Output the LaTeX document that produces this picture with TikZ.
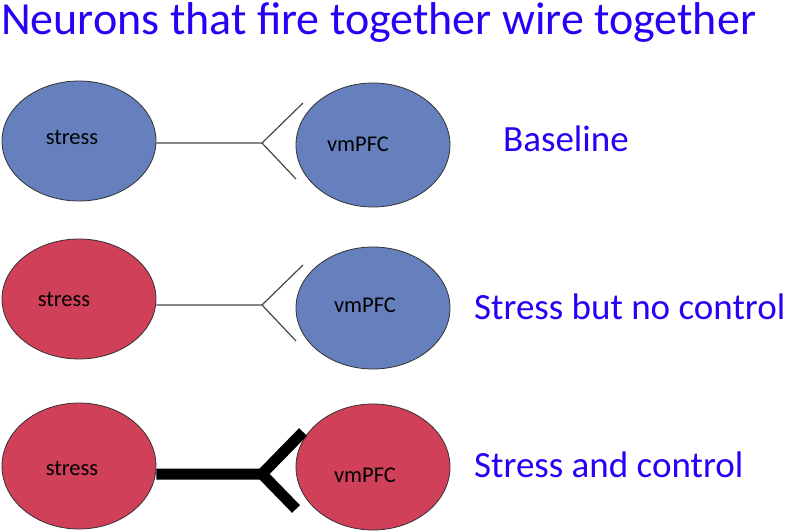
\documentclass[tikz,border=0pt]{standalone}
\usepackage{fontspec}
\setmainfont{Carlito}
\usetikzlibrary{shapes.geometric}
\definecolor{nblue}{RGB}{102,128,190}
\definecolor{nred}{RGB}{208,64,88}
\definecolor{ttext}{RGB}{40,0,245}
\definecolor{edge}{RGB}{50,50,50}
\tikzset{
  neuron/.style={ellipse, draw=edge, line width=0.8pt, inner sep=0pt, minimum width=154pt, minimum height=120pt},
  ntext/.style={font=\fontsize{22.5}{26}\selectfont, text=black, inner sep=0pt},
  caption/.style={font=\fontsize{37}{44}\selectfont, text=ttext, inner sep=0pt, anchor=base west},
  thinwire/.style={draw=edge!90, line width=1.2pt},
  thickwire/.style={draw=black, line width=11pt}
}
\begin{document}
\begin{tikzpicture}[x=1pt,y=-1pt]
\useasboundingbox (0,0) rectangle (787,532);
\node[font=\fontsize{46}{54}\selectfont, text=ttext, inner sep=0pt, anchor=base west] (title) at (1,35) {Neurons that fire together wire together};

% row 1
\node[neuron, fill=nblue] (s1) at (79,141) {};
\node[neuron, fill=nblue, minimum height=124pt] (v1) at (373,145) {};
\node[ntext] (s1t) at (72,137) {stress};
\node[ntext] (v1t) at (358,144) {vmPFC};
\coordinate (f1) at (262,143);
\coordinate (u1) at (303,103);
\coordinate (d1) at (296,179);
\draw[thinwire] (s1.east |- f1) -- (f1) -- (u1);
\draw[thinwire] (f1) -- (d1);
\node[caption] (c1) at (503,152) {Baseline};

% row 2
\node[neuron, fill=nred] (s2) at (79,299) {};
\node[neuron, fill=nblue, minimum height=122pt] (v2) at (373,308) {};
\node[ntext] (s2t) at (64,299) {stress};
\node[ntext] (v2t) at (365,305) {vmPFC};
\coordinate (f2) at (262,305);
\coordinate (u2) at (303,265);
\coordinate (d2) at (296,341);
\draw[thinwire] (s2.east |- f2) -- (f2) -- (u2);
\draw[thinwire] (f2) -- (d2);
\node[caption] (c2) at (474,319) {Stress but no control};

% row 3
\node[neuron, fill=nred, minimum height=126pt] (s3) at (79,466) {};
\node[neuron, fill=nred, minimum height=126pt] (v3) at (373,467) {};
\node[ntext] (s3t) at (72,468) {stress};
\node[ntext] (v3t) at (365,475) {vmPFC};
\coordinate (f3) at (262,474);
\coordinate (u3) at (303,432);
\coordinate (d3) at (296,509);
\draw[thickwire] (s3.east |- f3) -- (f3) -- (u3);
\draw[thickwire] (f3) -- (d3);
\node[caption] (c3) at (474,477) {Stress and control};
\end{tikzpicture}
\end{document}
